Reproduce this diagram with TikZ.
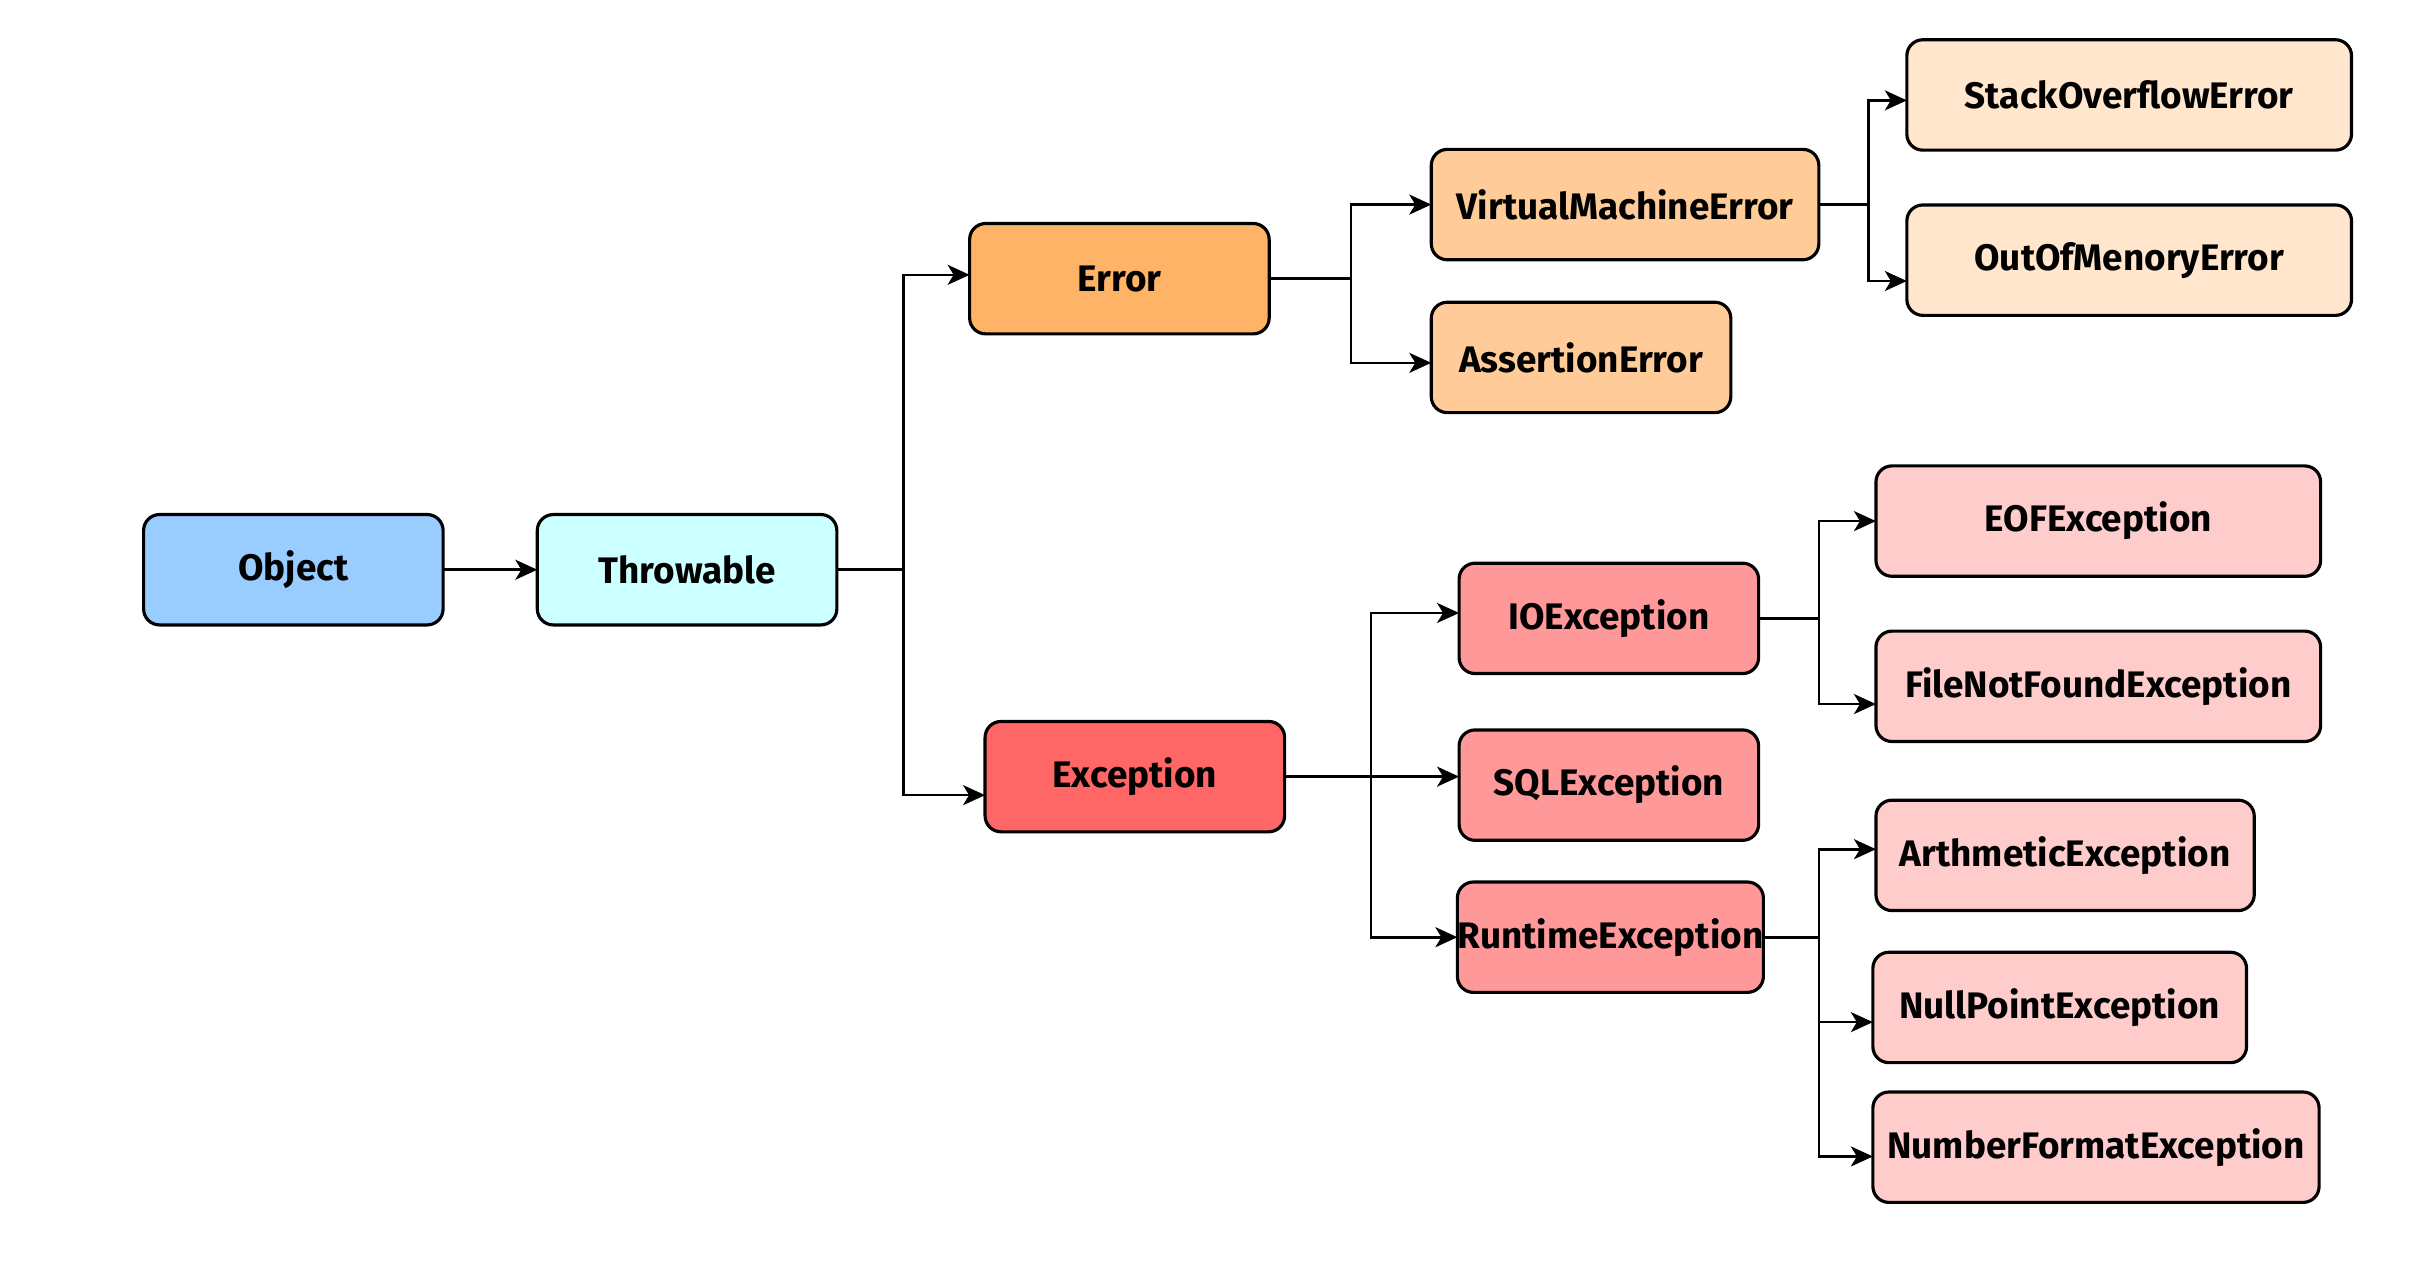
\documentclass[tikz,border=0pt]{standalone}
\usepackage{fontspec}
\setmainfont{Fira Sans}
\usetikzlibrary{arrows.meta,calc}
\definecolor{cObj}{HTML}{99CCFF}
\definecolor{cThr}{HTML}{CCFFFF}
\definecolor{cErr}{HTML}{FFB366}
\definecolor{cErrB}{HTML}{FFCC99}
\definecolor{cErrC}{HTML}{FFE6CC}
\definecolor{cExc}{HTML}{FF6666}
\definecolor{cExcB}{HTML}{FF9999}
\definecolor{cExcC}{HTML}{FFCCCC}
\def\U{0.01544cm}
\begin{document}
\begin{tikzpicture}[x=0.01544cm,y=-0.01544cm,
  box/.style={draw=black, line width=0.9pt, rounded corners=0.16cm, inner sep=0pt, outer sep=0pt,
    minimum height=71.5*\U, font=\fontsize{10.5}{12}\selectfont\bfseries},
  conn/.style={line width=0.75pt},
  arr/.style={conn, -{Stealth[length=0.22cm,width=0.2cm,inset=0.06cm]}}]
\useasboundingbox (0,0) rectangle (1568,818.7);
% nodes
\node[box, fill=cObj,  minimum width=194*\U] (obj) at (190,369) {Object};
\node[box, fill=cThr,  minimum width=194*\U] (thr) at (445,369) {Throwable};
\node[box, fill=cErr,  minimum width=194*\U] (err) at (725,180.5) {Error};
\node[box, fill=cExc,  minimum width=194*\U] (exc) at (735,503) {Exception};
\node[box, fill=cErrB, minimum width=251*\U] (vme) at (1052.5,132.5) {VirtualMachineError};
\node[box, fill=cErrB, minimum width=194*\U] (ass) at (1024,231.5) {AssertionError};
\node[box, fill=cErrC, minimum width=288*\U] (soe) at (1379,61.5) {StackOverflowError};
\node[box, fill=cErrC, minimum width=288*\U] (oom) at (1379,168.5) {OutOfMenoryError};
\node[box, fill=cExcB, minimum width=194*\U] (io)  at (1042,400.5) {IOException};
\node[box, fill=cExcB, minimum width=194*\U] (sql) at (1042,508.5) {SQLException};
\node[box, fill=cExcB, minimum width=194*\U] (rt)  at (1043,607) {RuntimeException};
\node[box, fill=cExcC, minimum width=288*\U] (eof) at (1359,337.5) {EOFException};
\node[box, fill=cExcC, minimum width=288*\U] (fnf) at (1359,444.5) {FileNotFoundException};
\node[box, fill=cExcC, minimum width=245*\U] (ari) at (1337.5,554) {ArthmeticException};
\node[box, fill=cExcC, minimum width=242*\U] (npe) at (1334,652.5) {NullPointException};
\node[box, fill=cExcC, minimum width=289*\U] (nfe) at (1357.5,743) {NumberFormatException};
% junctions
\coordinate (j1) at (585,369);
\coordinate (j2) at (875,180.5);
\coordinate (j3) at (1210,132.5);
\coordinate (j4) at (888,503);
\coordinate (j5) at (1178,400.5);
\coordinate (j6) at (1178,607);
% connectors
\draw[arr] (obj.east) -- (thr.west);
\draw[conn] (thr.east) -- (j1);
\draw[arr] (j1) |- ([yshift=2.5*\U]err.west);
\draw[arr] (j1) |- ([yshift=-12*\U]exc.west);
\draw[conn] (err.east) -- (j2);
\draw[arr] (j2) |- (vme.west);
\draw[arr] (j2) |- ([yshift=-3.5*\U]ass.west);
\draw[conn] (vme.east) -- (j3);
\draw[arr] (j3) |- ([yshift=-3.5*\U]soe.west);
\draw[arr] (j3) |- ([yshift=-13.5*\U]oom.west);
\draw[conn] (exc.east) -- (j4);
\draw[arr] (j4) |- ([yshift=3.5*\U]io.west);
\draw[arr] (j4) -- (sql.west |- j4);
\draw[arr] (j4) |- (rt.west);
\draw[conn] (io.east) -- (j5);
\draw[arr] (j5) |- (eof.west);
\draw[arr] (j5) |- ([yshift=-11.5*\U]fnf.west);
\draw[conn] (rt.east) -- (j6);
\draw[arr] (j6) |- ([yshift=4*\U]ari.west);
\draw[arr] (j6) |- ([yshift=-9.5*\U]npe.west);
\draw[arr] (j6) |- ([yshift=-6*\U]nfe.west);
\end{tikzpicture}
\end{document}
